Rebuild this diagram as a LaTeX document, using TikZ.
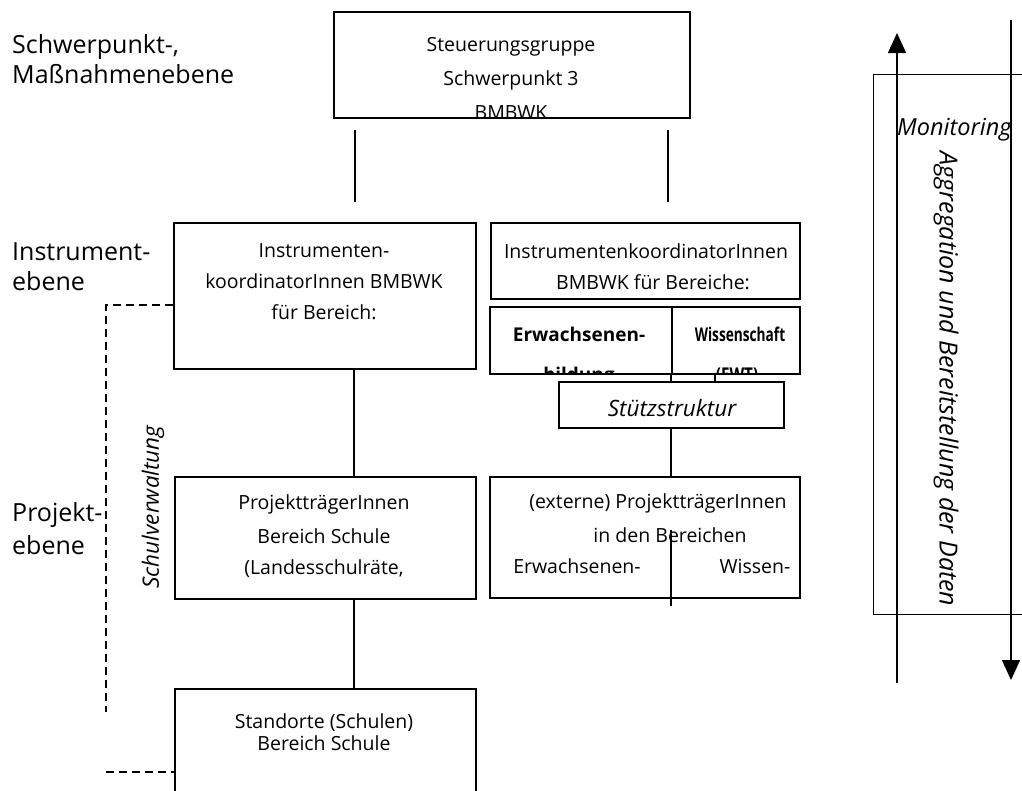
\documentclass[tikz,border=0pt]{standalone}
\usepackage{fontspec}
\setmainfont{Open Sans}
\usetikzlibrary{arrows.meta}
\begin{document}
\begin{tikzpicture}[x=1pt,y=-1pt,
  box/.style={draw, line width=1.9pt, inner sep=0pt, anchor=north west, fill=white},
  txt/.style={inner sep=0pt, anchor=base, font=\fontsize{19.5}{22}\selectfont},
  btxt/.style={inner sep=0pt, anchor=base, font=\fontsize{19}{22}\selectfont\bfseries},
  itxt/.style={inner sep=0pt, anchor=base, font=\fontsize{22.5}{24}\selectfont\itshape},
  lbl/.style={inner sep=0pt, anchor=base west, font=\fontsize{25}{28}\selectfont},
  conn/.style={line width=1.5pt},
  dashline/.style={line width=1.5pt, dash pattern=on 8pt off 5pt},
  arr/.style={line width=1.5pt, -{Triangle[width=18pt,length=20pt]}}]
\useasboundingbox (0,0) rectangle (1022,790);
\clip (0,0) rectangle (1022,790);

% level labels
\node[lbl] (l1a) at (12,53) {Schwerpunkt-,};
\node[lbl] (l1b) at (12,83) {Maßnahmenebene};
\node[lbl] (l2a) at (12,260) {Instrument-};
\node[lbl] (l2b) at (12,290) {ebene};
\node[lbl] (l3a) at (12,521) {Projekt-};
\node[lbl] (l3b) at (12,554) {ebene};

% right side: monitoring
\node[draw, line width=1.4pt, inner sep=0pt, anchor=north west, minimum width=170pt, minimum height=540pt] (mon) at (873,74) {};
\coordinate (upS) at (897,683);
\coordinate (upE) at (897,33);
\coordinate (dnS) at (1011,20);
\coordinate (dnE) at (1011,680);
\draw[arr] (upS) -- (upE);
\draw[arr] (dnS) -- (dnE);
\node[itxt, anchor=base west, font=\fontsize{23.5}{24}\selectfont\itshape] (montxt) at (897,135) {Monitoring};
\node[itxt, anchor=center, rotate=-90, font=\fontsize{25}{26}\selectfont\itshape] (aggtxt) at (946,379) {Aggregation und Bereitstellung der Daten};

% top box
\node[box, minimum width=356pt, minimum height=106pt] (top) at (333,11) {};
\begin{scope}
\clip (333,11) rectangle (689,116);
\node[txt] (t1) at (511,51) {Steuerungsgruppe};
\node[txt] (t2) at (511,85) {Schwerpunkt 3};
\node[txt] (t3) at (511,119) {BMBWK};
\end{scope}

% instrument level
\node[box, minimum width=302pt, minimum height=146pt] (li) at (173,222) {};
\node[txt] (li1) at (324,257) {Instrumenten-};
\node[txt] (li2) at (324,288) {koordinatorInnen BMBWK};
\node[txt] (li3) at (324,319) {für Bereich:};

\node[box, minimum width=309pt, minimum height=76pt] (ri) at (490,222) {};
\node[txt] (ri1) at (646,258) {InstrumentenkoordinatorInnen};
\node[txt] (ri2) at (653,289) {BMBWK für Bereiche:};

\node[box, minimum width=182pt, minimum height=67pt] (ew) at (489,306) {};
\node[box, minimum width=128pt, minimum height=67pt] (ws) at (671,306) {};
\begin{scope}
\clip (489,306) rectangle (799,372);
\node[btxt] (ew1) at (579,341) {Erwachsenen-};
\node[btxt] (ew2) at (579,381) {bildung};
\node[btxt] (ws1) at (740,341) {\scalebox{0.72}[1]{Wissenschaft}};
\node[btxt] (ws2) at (737,381) {\scalebox{0.8}[1]{(EWT)}};
\end{scope}

\node[box, minimum width=225pt, minimum height=46pt] (st) at (558,381) {};
\node[itxt] (st1) at (672,416) {Stützstruktur};

% project level
\node[box, minimum width=301pt, minimum height=122pt] (lp) at (174,476) {};
\node[txt] (lp1) at (324,509) {ProjektträgerInnen};
\node[txt] (lp2) at (324,543) {Bereich Schule};
\node[txt] (lp3) at (324,574) {(Landesschulräte,};

\node[box, minimum width=310pt, minimum height=121pt] (rp) at (489,476) {};
\node[txt] (rp1) at (658,508) {(externe) ProjektträgerInnen};
\node[txt] (rp2) at (670,542) {in den Bereichen};
\node[txt] (rp3) at (577,573) {Erwachsenen-};
\node[txt] (rp4) at (755,573) {Wissen-};

\node[itxt, anchor=center, rotate=90] (sv) at (153,507) {Schulverwaltung};

% schools
\node[box, minimum width=301pt, minimum height=130pt] (sd) at (174,688) {};
\node[txt] (sd1) at (324,728) {Standorte (Schulen)};
\node[txt] (sd2) at (324,750) {Bereich Schule};

% connectors
\coordinate (ca1) at (355,130);
\coordinate (ca2) at (355,202);
\coordinate (cb1) at (668,130);
\coordinate (cb2) at (668,202);
\draw[conn] (ca1) -- (ca2);
\draw[conn] (cb1) -- (cb2);
\coordinate (xl) at (354,0);
\coordinate (xm) at (671,0);
\coordinate (xw) at (715,0);
\draw[conn] (xl |- li.south) -- (xl |- lp.north);
\draw[conn] (xl |- lp.south) -- (xl |- sd.north);
\draw[conn] (xm |- ew.south) -- (xm |- st.north);
\draw[conn] (xw |- ws.south) -- (xw |- st.north);
\draw[conn] (xm |- st.south) -- (xm |- rp.north);
\coordinate (rpd1) at (671,530);
\coordinate (rpd2) at (671,606);
\draw[conn] (rpd1) -- (rpd2);

% dashed Schulverwaltung line
\coordinate (dv1) at (106,305);
\coordinate (dv2) at (106,712);
\coordinate (dh1) at (106,772);
\draw[dashline] (li.west |- dv1) -- (dv1) -- (dv2);
\draw[dashline] (dh1) -- (sd.west |- dh1);
\end{tikzpicture}
\end{document}
